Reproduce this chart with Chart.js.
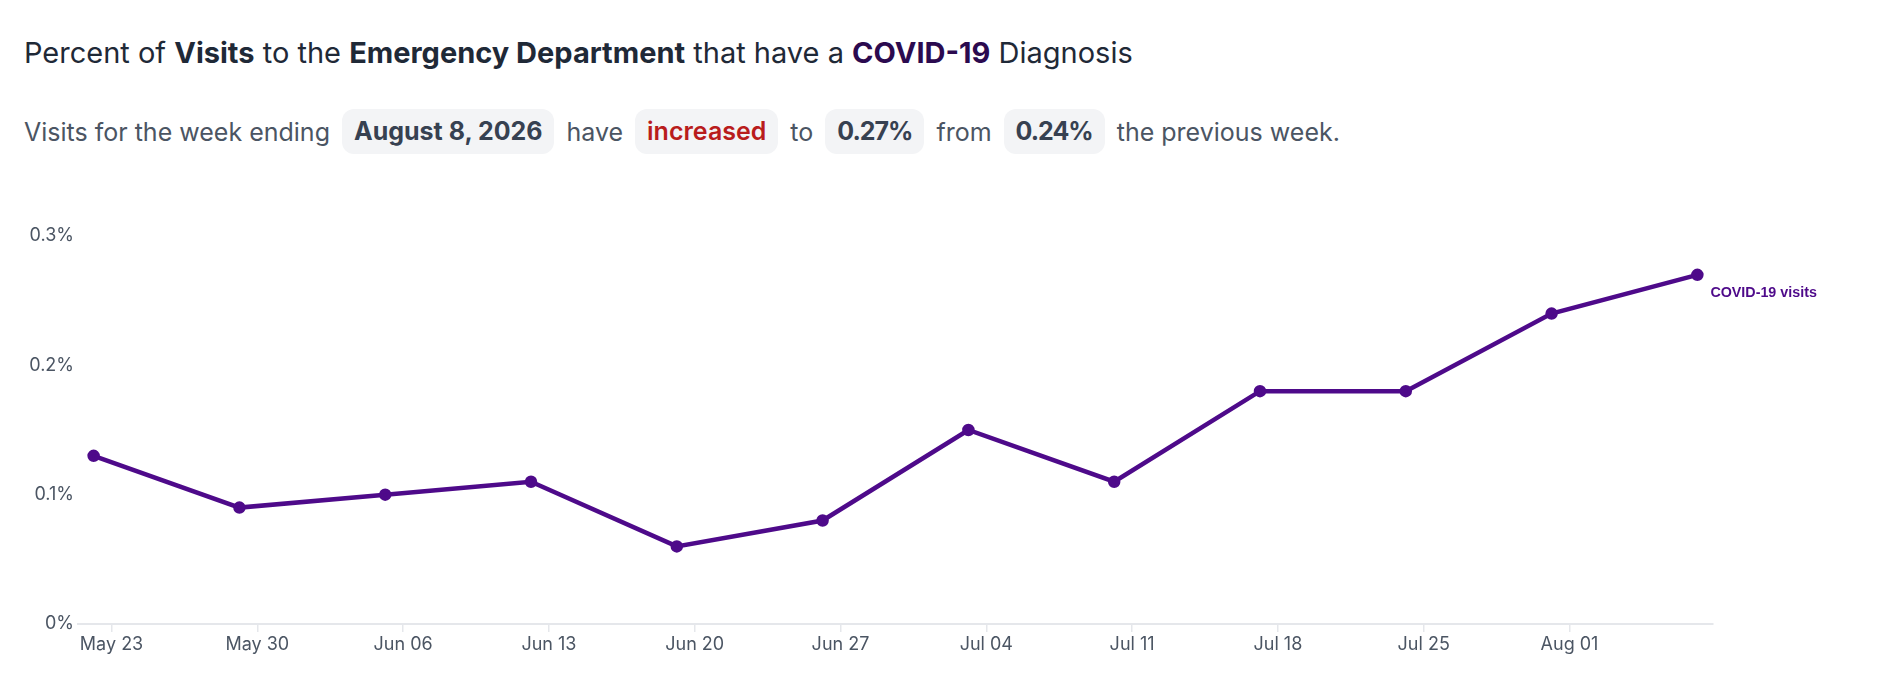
<!DOCTYPE html>
<html>
<head>
<meta charset="utf-8">
<script src="https://cdn.jsdelivr.net/npm/chart.js@4.4.1/dist/chart.umd.min.js"></script>
<style>
  html, body { margin: 0; padding: 0; background: #fff; }
  body { width: 1878px; height: 684px; position: relative; overflow: hidden; font-family: Inter, "Noto Sans", sans-serif; }
  .title { position: absolute; left: 24px; top: 35px; font-size: 29px; color: #1f2937; white-space: nowrap; }
  .title b { font-weight: 700; }
  .title .covid { color: #2b0a4f; }
  .summary { position: absolute; left: 24px; top: 109px; height: 45px; display: flex; align-items: center; font-size: 25px; color: #4b5563; white-space: nowrap; }
  .pill { background: #f3f4f6; border-radius: 12px; padding: 0 12px; height: 45px; line-height: 45px; margin: 0 12px; font-weight: 700; color: #374151; }
  .pill.num { letter-spacing: -1px; }
  .pill.up { color: #b91c1c; font-weight: 600; }
  .wrap { position: absolute; left: 0; top: 180px; width: 1878px; height: 504px; }
</style>
</head>
<body>
<div class="title">Percent of <b>Visits</b> to the <b>Emergency Department</b> that have a <b class="covid">COVID-19</b> Diagnosis</div>
<div class="summary">Visits for the week ending<span class="pill">August 8, 2026</span>have<span class="pill up">increased</span>to<span class="pill num">0.27%</span>from<span class="pill num">0.24%</span>the previous week.</div>
<div class="wrap"><canvas id="chart"></canvas></div>
<script>
// week-ending dates and percent of ED visits with a COVID-19 diagnosis
const weekEnding = ['2026-05-23', '2026-05-30', '2026-06-06', '2026-06-13', '2026-06-20', '2026-06-27',
  '2026-07-04', '2026-07-11', '2026-07-18', '2026-07-25', '2026-08-01', '2026-08-08'];
const covidPct = [0.13, 0.09, 0.10, 0.11, 0.06, 0.08, 0.15, 0.11, 0.18, 0.18, 0.24, 0.27];

const tickDates = ['2026-05-23', '2026-05-30', '2026-06-06', '2026-06-13', '2026-06-20', '2026-06-27',
  '2026-07-04', '2026-07-11', '2026-07-18', '2026-07-25', '2026-08-01'];
const tickLabels = ['May 23', 'May 30', 'Jun 06', 'Jun 13', 'Jun 20', 'Jun 27',
  'Jul 04', 'Jul 11', 'Jul 18', 'Jul 25', 'Aug 01'];
const yTicks = [0, 0.1, 0.2, 0.3];

const seriesLabel = 'COVID-19 visits';
const purple = '#4e0a8a';

function dayNum(s) {
  return Date.UTC(+s.slice(0, 4), +s.slice(5, 7) - 1, +s.slice(8, 10)) / 86400000;
}

// the points are stamped a little before the matching Saturday tick
const stampShift = -0.86;
const points = weekEnding.map((d, i) => ({ x: dayNum(d) + stampShift, y: covidPct[i] }));
const tickDays = tickDates.map(dayNum);

const endLabel = {
  id: 'endLabel',
  afterDatasetsDraw(chart) {
    const meta = chart.getDatasetMeta(0);
    const last = meta.data[meta.data.length - 1];
    const ctx = chart.ctx;
    ctx.save();
    ctx.font = 'bold 14.3px "Liberation Sans", Arial, sans-serif';
    ctx.fillStyle = purple;
    ctx.textBaseline = 'middle';
    ctx.textAlign = 'left';
    ctx.fillText(seriesLabel, last.x + 13, last.y + 18);
    ctx.restore();
  }
};

new Chart(document.getElementById('chart'), {
  type: 'line',
  data: {
    datasets: [{
      label: seriesLabel,
      data: points,
      borderColor: purple,
      backgroundColor: purple,
      borderWidth: 4.5,
      pointRadius: 4,
      pointHoverRadius: 4,
      tension: 0
    }]
  },
  options: {
    responsive: true,
    maintainAspectRatio: false,
    animation: false,
    layout: { padding: { top: 56, right: 165, bottom: 0, left: 0 } },
    plugins: { legend: { display: false }, tooltip: { enabled: false } },
    scales: {
      x: {
        type: 'linear',
        min: points[0].x - 0.75,
        max: points[points.length - 1].x + 0.75,
        afterBuildTicks: (scale) => { scale.ticks = tickDays.map((v) => ({ value: v })); },
        afterFit: (scale) => { scale.height = 60; },
        border: { color: '#e5e7eb', width: 2 },
        grid: { drawOnChartArea: false, tickLength: 8, color: '#e5e7eb', lineWidth: 1.5 },
        ticks: {
          autoSkip: false,
          maxRotation: 0,
          padding: 2,
          color: '#4b5563',
          font: { family: 'Inter', size: 18 },
          callback: (v) => tickLabels[tickDays.indexOf(v)] || ''
        }
      },
      y: {
        min: 0,
        max: 0.3,
        afterBuildTicks: (scale) => { scale.ticks = yTicks.map((v) => ({ value: v })); },
        afterFit: (scale) => { scale.width = 78; },
        border: { display: false },
        grid: { display: false, drawTicks: false },
        ticks: {
          padding: 4,
          color: '#4b5563',
          font: { family: 'Inter', size: 18 },
          callback: (v) => Math.round(v * 10) / 10 + '%'
        }
      }
    }
  },
  plugins: [endLabel]
});
</script>
</body>
</html>
